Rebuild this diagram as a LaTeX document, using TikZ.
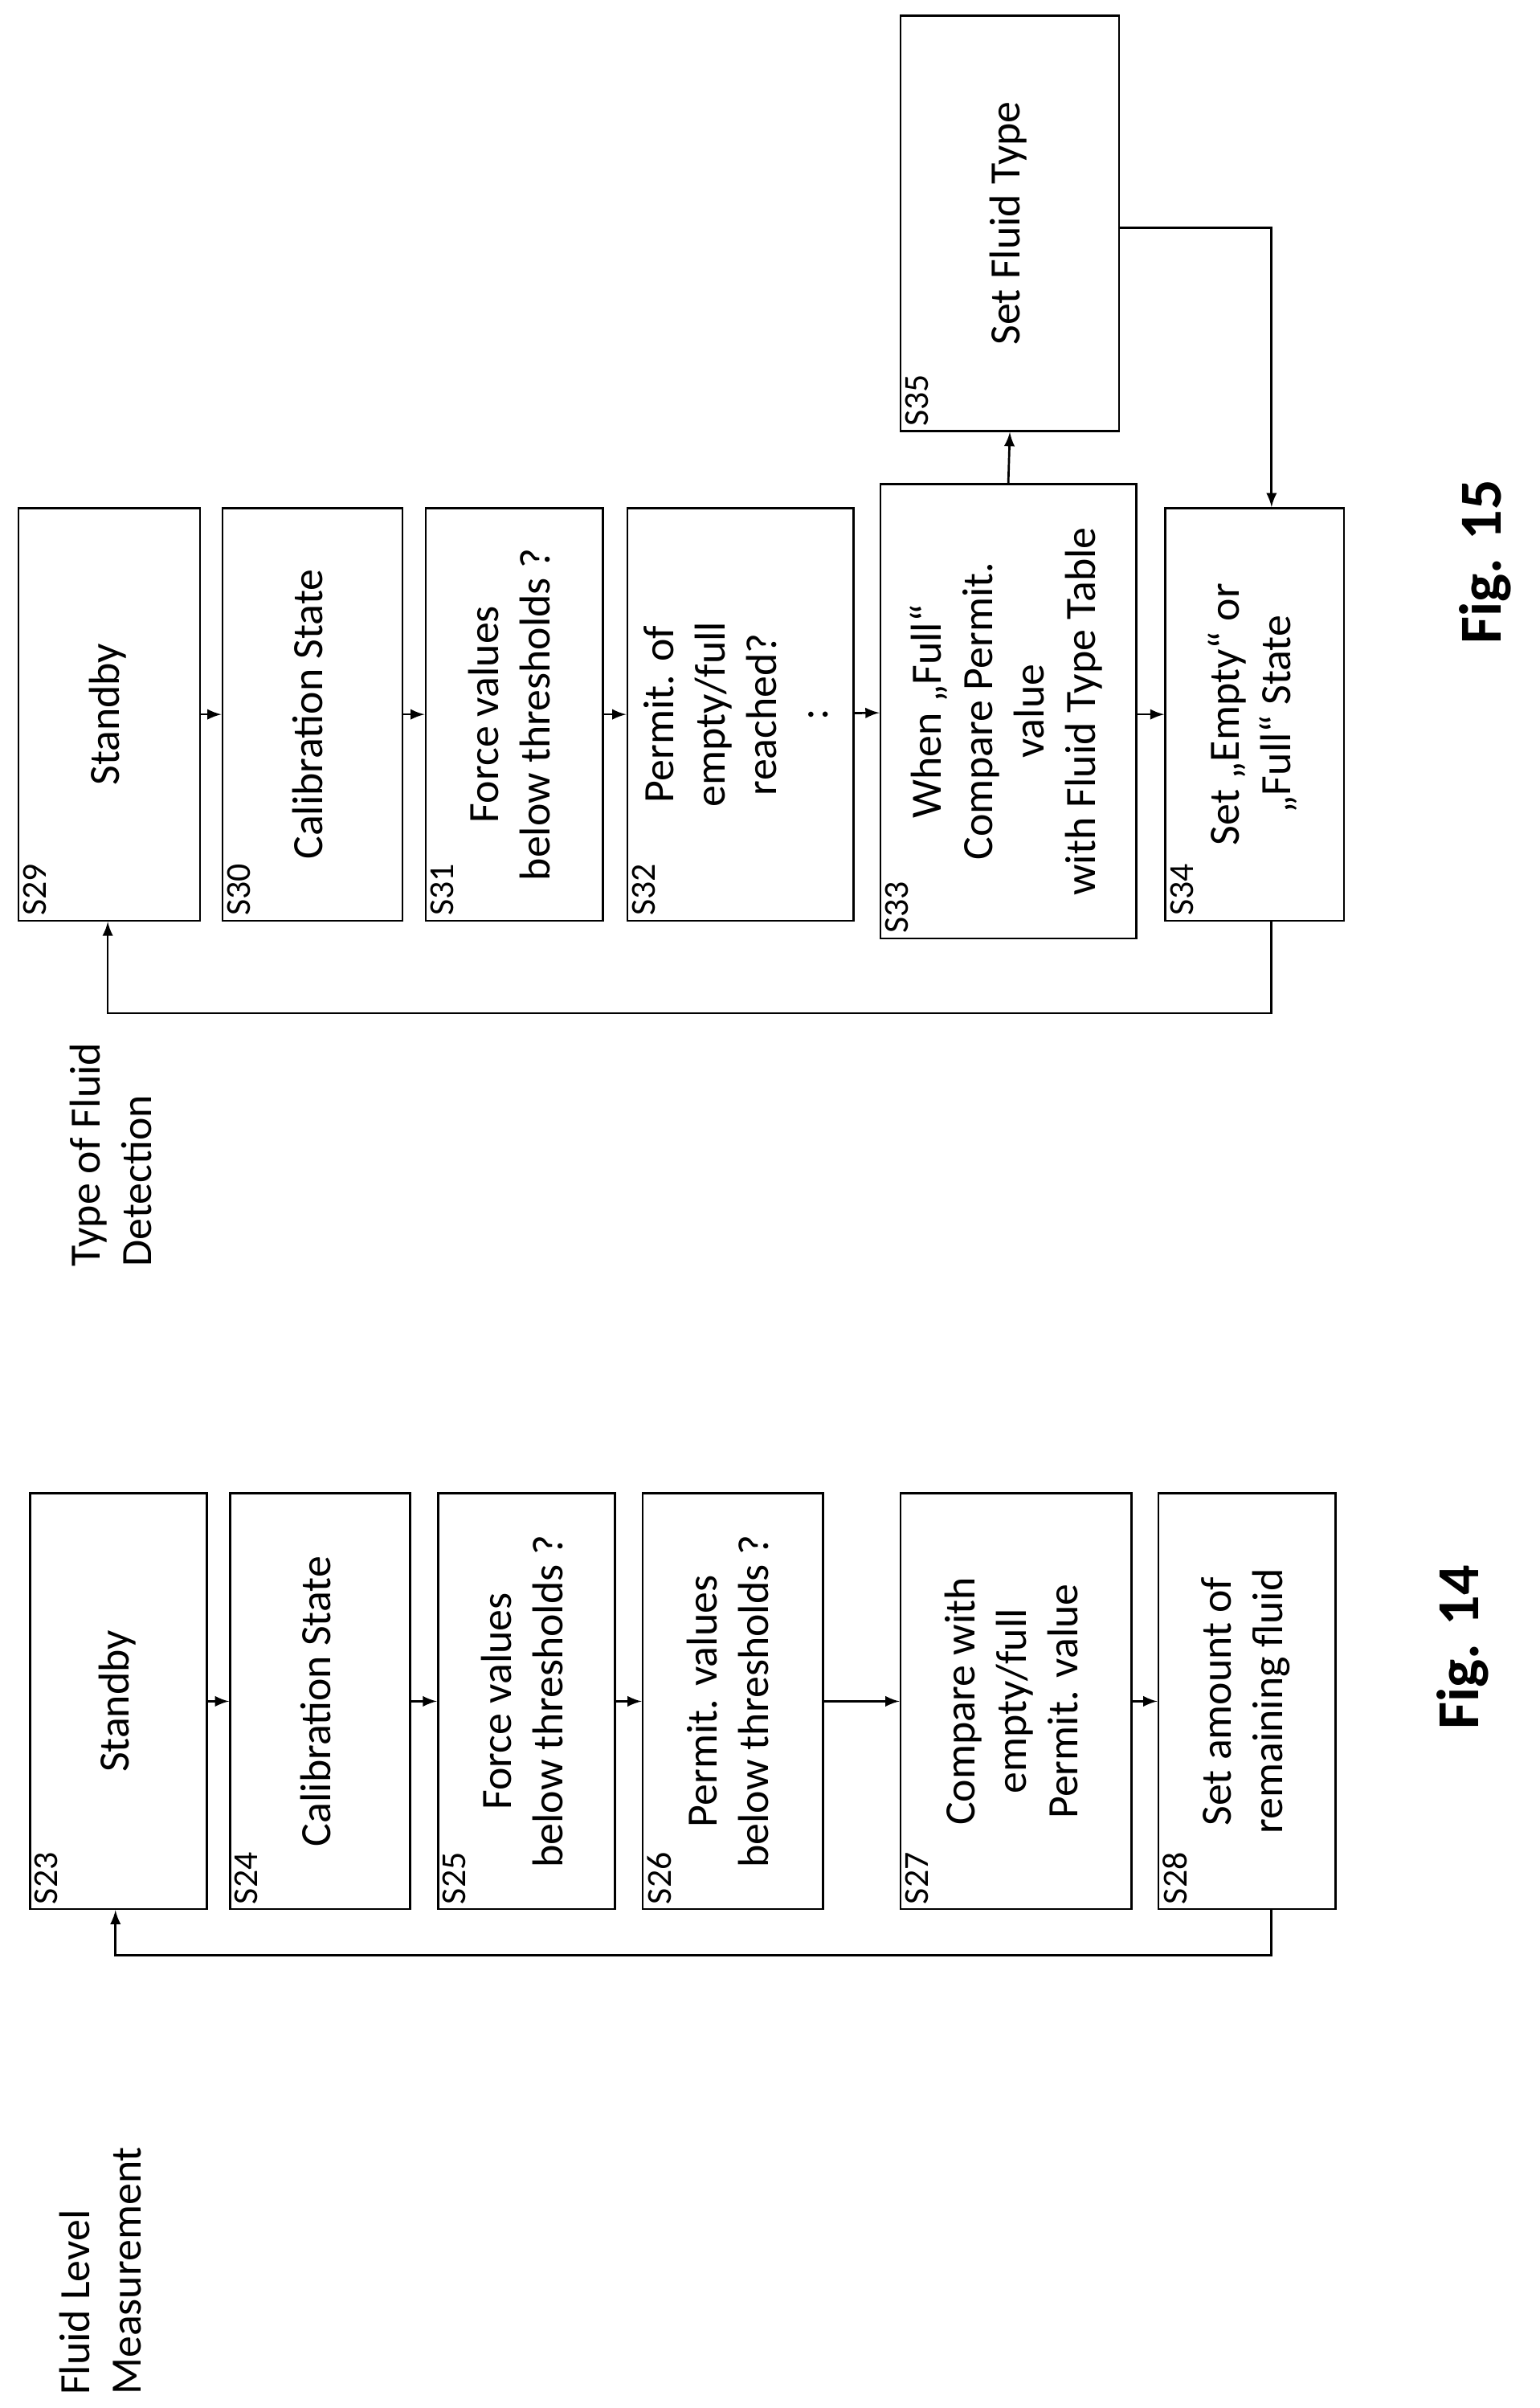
\documentclass[tikz,border=0pt]{standalone}
\usepackage{fontspec}
\setmainfont{Carlito}
\usetikzlibrary{arrows}
\tikzset{
  box/.style={draw,thick,rectangle,inner sep=0pt,font=\fontsize{16}{19}\selectfont},
  flow/.style={-latex,thick},
  steplabel/.style={font=\fontsize{13}{14}\selectfont,inner sep=2pt}
}
\newcommand{\rtxt}[1]{\rotatebox{90}{\begin{tabular}{c}#1\end{tabular}}}
\begin{document}
\begin{tikzpicture}[x=0.02cm,y=-0.02cm]
\useasboundingbox (0,0) rectangle (1000,1564);

% Fig. 14
\node[box,minimum width=2.3cm,minimum height=5.4cm] (s23) at (77,1105) {\rtxt{Standby}};
\node[box,minimum width=2.34cm,minimum height=5.4cm] (s24) at (208,1105) {\rtxt{Calibration State}};
\node[box,minimum width=2.3cm,minimum height=5.4cm] (s25) at (342,1105) {\rtxt{Force values\\below thresholds ?}};
\node[box,minimum width=2.34cm,minimum height=5.4cm] (s26) at (476,1105) {\rtxt{Permit. values\\below thresholds ?}};
\node[box,minimum width=3.0cm,minimum height=5.4cm] (s27) at (660,1105) {\rtxt{Compare with\\empty/full\\Permit. value}};
\node[box,minimum width=2.3cm,minimum height=5.4cm] (s28) at (810,1105) {\rtxt{Set amount of\\remaining fluid}};
\foreach \n in {23,...,28}
  \node[steplabel,rotate=90,anchor=north west] at (s\n.south west) {S\n};
\draw[flow] (s23) -- (s24);
\draw[flow] (s24) -- (s25);
\draw[flow] (s25) -- (s26);
\draw[flow] (s26) -- (s27);
\draw[flow] (s27) -- (s28);
\coordinate (b14) at (826,1270);
\draw[flow] (s28.south -| b14) -- (b14) -- (b14 -| 75,0) -- (s23.south -| 75,0);
\node[rotate=90,font=\fontsize{16}{19}\selectfont,align=left] (t14) at (65,1475) {Fluid Level\\Measurement};
\node[rotate=90,font=\bfseries\fontsize{22}{26}\selectfont] (f14) at (950,1070) {Fig. 14};

% Fig. 15
\node[box,minimum width=2.36cm,minimum height=5.36cm] (s29) at (71,464) {\rtxt{Standby}};
\node[box,minimum width=2.34cm,minimum height=5.36cm] (s30) at (203,464) {\rtxt{Calibration State}};
\node[box,minimum width=2.3cm,minimum height=5.36cm] (s31) at (334,464) {\rtxt{Force values\\below thresholds ?}};
\node[box,minimum width=2.94cm,minimum height=5.36cm] (s32) at (481,464) {\rtxt{Permit. of\\empty/full\\reached?\\:}};
\node[box,minimum width=3.32cm,minimum height=5.9cm] (s33) at (655,462) {\rtxt{When „Full“\\Compare Permit.\\value\\with Fluid Type Table}};
\node[box,minimum width=2.32cm,minimum height=5.36cm] (s34) at (815,464) {\rtxt{Set „Empty“ or\\„Full“ State}};
\node[box,minimum width=2.84cm,minimum height=5.4cm] (s35) at (656,145) {\rtxt{Set Fluid Type}};
\foreach \n in {29,...,35}
  \node[steplabel,rotate=90,anchor=north west] at (s\n.south west) {S\n};
\draw[flow] (s29) -- (s30);
\draw[flow] (s30) -- (s31);
\draw[flow] (s31) -- (s32);
\draw[flow] (s32) -- (s33);
\draw[flow] (s33.east |- s34) -- (s34);
\draw[flow] (s33.north) -- (s35.south);
\coordinate (r35) at (826,148);
\draw[flow] (s35.east |- r35) -- (r35) -- (s34.north -| r35);
\coordinate (b15) at (826,658);
\draw[flow] (s34.south -| b15) -- (b15) -- (b15 -| 70,0) -- (s29.south -| 70,0);
\node[rotate=90,font=\fontsize{16}{19}\selectfont,align=left] (t15) at (72,750) {Type of Fluid\\Detection};
\node[rotate=90,font=\bfseries\fontsize{22}{26}\selectfont] (f15) at (965,365) {Fig. 15};
\end{tikzpicture}
\end{document}
